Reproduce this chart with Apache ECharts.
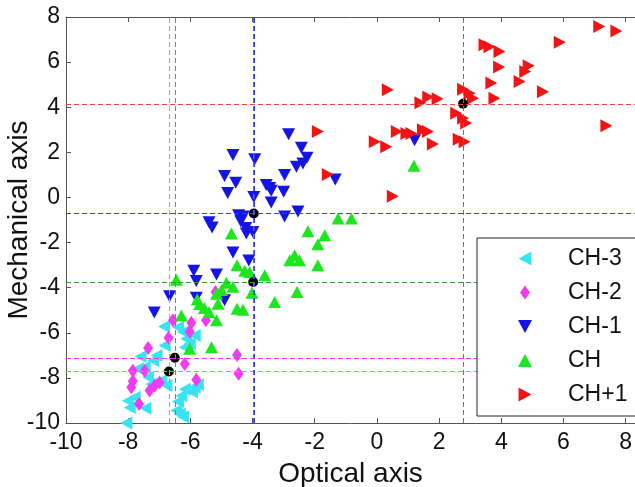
<!DOCTYPE html>
<html>
<head>
<meta charset="utf-8">
<script src="https://cdn.jsdelivr.net/npm/echarts@6/dist/echarts.min.js"></script>
<style>
  html, body { margin: 0; padding: 0; background: #fff; }
  #main { width: 635px; height: 487px; }
</style>
</head>
<body>
<div id="main"></div>
<script>
// 各类别的点 [optical, mechanical]
var ch3 = [[-6.85,-5.72],[-6.40,-5.75],[-6.24,-5.97],[-6.13,-6.27],[-5.86,-6.12],[-6.02,-6.49],[-6.18,-6.64],
  [-6.83,-6.56],[-7.60,-7.05],[-7.09,-7.01],[-7.20,-7.23],[-7.69,-7.60],[-7.47,-7.53],[-7.36,-7.97],[-7.25,-8.27],
  [-6.93,-8.12],[-6.77,-8.34],[-8.01,-9.01],[-7.79,-8.86],[-7.95,-9.31],[-7.45,-9.35],[-6.18,-8.50],[-6.29,-8.79],
  [-6.40,-9.05],[-5.86,-8.42],[-5.76,-8.30],[-6.45,-9.45],[-6.34,-9.60],[-6.24,-9.72],[-8.06,-10.0],[-5.95,-8.62]];
var ch2 = [[-6.56,-5.45],[-5.97,-5.55],[-6.02,-5.95],[-5.50,-5.45],[-5.19,-4.19],[-6.70,-6.22],[-7.36,-6.68],
  [-6.18,-7.38],[-4.50,-6.98],[-4.45,-7.82],[-7.85,-7.68],[-7.47,-7.68],[-5.81,-8.08],[-7.90,-8.42],[-7.85,-8.15],
  [-7.31,-8.56],[-7.15,-8.35],[-6.99,-8.20],[-7.65,-9.16]];
var ch1 = [[-2.84,2.80],[-2.43,2.20],[-2.25,1.76],[-2.38,1.51],[-2.59,1.36],[-2.97,0.99],[-4.63,1.88],[-3.93,1.69],
  [-4.90,0.95],[-4.54,0.65],[-4.80,0.20],[-3.56,0.55],[-3.45,0.42],[-3.40,0.30],[-3.00,0.25],[-3.96,0.02],
  [-3.40,-0.22],[-2.97,-0.84],[-2.54,-0.62],[-5.40,-1.10],[-5.30,-1.33],[-4.45,-0.79],[-4.30,-0.84],[-4.38,-1.05],
  [-4.22,-1.35],[-4.20,-1.60],[-3.99,-1.53],[-1.34,0.80],[1.21,2.54],[-4.63,-2.44],[-4.12,-2.80],[-5.89,-3.25],
  [-5.16,-3.42],[-5.81,-3.70],[-6.67,-4.38],[-5.81,-4.45],[-4.90,-4.56],[-7.16,-5.10]];
var ch = [[1.19,1.40],[-1.25,-0.93],[-0.82,-0.93],[-2.22,-1.50],[-1.68,-1.68],[-1.90,-2.08],[-4.68,-1.60],
  [-2.65,-2.56],[-2.80,-2.79],[-2.49,-2.79],[-1.90,-3.01],[-4.50,-3.01],[-4.09,-3.31],[-4.25,-3.25],[-3.61,-3.45],
  [-6.45,-3.65],[-4.84,-3.78],[-4.63,-3.96],[-5.00,-4.10],[-5.16,-4.27],[-4.02,-4.22],[-2.57,-4.19],[-3.29,-4.64],
  [-5.78,-4.52],[-5.70,-4.72],[-5.11,-4.71],[-4.50,-4.93],[-4.31,-4.98],[-6.29,-5.23],[-5.55,-4.90],[-5.40,-5.08],
  [-5.16,-5.45],[-6.02,-6.71],[-5.32,-6.64]];
var chp1 = [[7.15,7.58],[7.70,7.38],[5.88,6.88],[3.46,6.77],[3.62,6.68],[3.94,6.47],[3.93,5.78],[4.88,5.84],
  [4.77,5.58],[4.59,5.14],[3.68,5.07],[5.34,4.69],[3.78,4.40],[2.77,4.80],[2.98,4.62],[3.09,4.40],[0.35,4.77],
  [1.40,4.20],[1.65,4.45],[1.95,4.38],[2.55,3.73],[2.77,3.51],[2.87,3.30],[7.38,3.18],[-1.90,2.92],[0.64,2.92],
  [0.95,2.84],[1.11,2.84],[1.48,3.00],[1.64,2.92],[-0.07,2.47],[0.30,2.25],[1.80,2.37],[2.63,2.58],[2.82,2.47],
  [-1.58,1.02],[0.51,0.05]];
// 类别中心
var centroids = [[-6.69,-7.72],[-6.50,-7.11],[-3.96,-0.71],[-3.98,-3.75],[2.77,4.15]];
var names = ['CH-3', 'CH-2', 'CH-1', 'CH', 'CH+1'];
var groups = [ch3, ch2, ch1, ch, chp1];

var colors = ['#38e4f2', '#f03cf0', '#1414e6', '#1ee61e', '#f01414'];
var lineColors = ['#20dcf0', '#ee30ee', '#3a3ae0', '#339933', '#ee4040'];
var symbols = ['triangle', 'diamond', 'triangle', 'triangle', 'triangle'];
var rotates = [90, 0, 180, 0, -90];
var sizes = [[13, 12], [10, 14], [13, 12], [13, 12], [13, 12]];
// 图例图标（左、菱形、下、上、右）
var legendIcons = [
  'path://M0,6.5L12,0L12,13Z',
  'path://M5,0L10,7L5,14L0,7Z',
  'path://M0,0L13,0L6.5,12Z',
  'path://M6.5,0L13,12L0,12Z',
  'path://M0,0L12,6.5L0,13Z'
];
var font = 'Liberation Sans, Arial, Helvetica, sans-serif';

var chart = echarts.init(document.getElementById('main'));

var series = [];
var legendData = [];
for (var i = 0; i < groups.length; i++) {
  series.push({
    name: names[i],
    type: 'scatter',
    data: groups[i],
    symbol: symbols[i],
    symbolRotate: rotates[i],
    symbolSize: sizes[i],
    itemStyle: { color: colors[i], opacity: 1 },
    // 中心虚线
    markLine: {
      silent: true,
      z: 5 + i,
      symbol: 'none',
      label: { show: false },
      lineStyle: { color: lineColors[i], type: [5, 3], width: 1, opacity: 1 },
      emphasis: { disabled: true },
      data: [{ xAxis: centroids[i][0] }, { yAxis: centroids[i][1] }]
    }
  });
  legendData.push({ name: names[i], icon: legendIcons[i] });
}

series.push({
  name: 'centroid',
  type: 'scatter',
  data: centroids,
  symbol: 'circle',
  symbolSize: 10,
  z: 4,
  itemStyle: { color: '#000', opacity: 1 }
});

var axisColor = '#555';
var option = {
  animation: false,
  backgroundColor: '#fff',
  textStyle: { fontFamily: font },
  grid: { left: 66, right: 0, top: 17, bottom: 64, outerBoundsMode: 'none' },
  legend: {
    data: legendData,
    orient: 'vertical',
    left: 477,
    top: 238,
    itemWidth: 14,
    itemHeight: 14,
    itemGap: 11,
    padding: [9, 20, 10, 41],
    borderColor: '#222',
    borderWidth: 1,
    borderRadius: 0,
    backgroundColor: '#fff',
    z: 20,
    textStyle: { fontSize: 23, lineHeight: 22, color: '#111', fontFamily: font, padding: [0, 0, 0, 31] }
  },
  xAxis: [{
    type: 'value',
    min: -10,
    max: 8.3,
    interval: 2,
    position: 'bottom',
    name: 'Optical axis',
    nameLocation: 'middle',
    nameGap: 37,
    nameMoveOverlap: false,
    nameTextStyle: { fontSize: 28, color: '#111', fontFamily: font },
    axisLine: { show: true, onZero: false, lineStyle: { color: axisColor } },
    axisTick: { inside: true, length: 5, lineStyle: { color: axisColor } },
    axisLabel: { fontSize: 23, color: '#111', margin: 8, showMaxLabel: false, fontFamily: font },
    splitLine: { show: false }
  }, {
    type: 'value',
    min: -10,
    max: 8.3,
    interval: 2,
    position: 'top',
    axisLine: { show: true, onZero: false, lineStyle: { color: axisColor } },
    axisTick: { inside: true, length: 5, lineStyle: { color: axisColor } },
    axisLabel: { show: false },
    splitLine: { show: false }
  }],
  yAxis: {
    type: 'value',
    min: -10,
    max: 8,
    interval: 2,
    name: 'Mechanical axis',
    nameLocation: 'middle',
    nameGap: 33,
    nameMoveOverlap: false,
    nameTextStyle: { fontSize: 28, color: '#111', fontFamily: font },
    axisLine: { show: true, onZero: false, lineStyle: { color: axisColor } },
    axisTick: { inside: true, length: 5, lineStyle: { color: axisColor } },
    axisLabel: { fontSize: 23, color: '#111', margin: 6, fontFamily: font },
    splitLine: { show: false }
  },
  series: series
};
chart.setOption(option);
</script>
</body>
</html>
